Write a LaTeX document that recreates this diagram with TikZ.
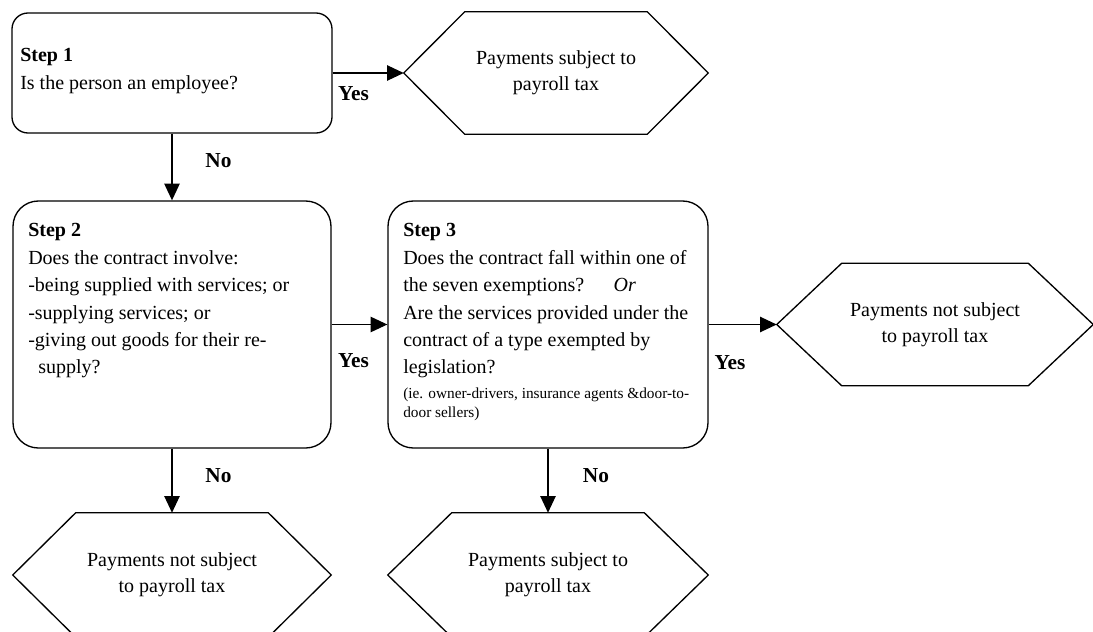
\documentclass[tikz,border=0pt]{standalone}
\usepackage{fontspec}
\setmainfont{Liberation Serif}
\usetikzlibrary{arrows.meta}
\begin{document}
\begin{tikzpicture}[x=0.75pt,y=-0.75pt,
  line/.style={draw=black, line width=1pt},
  arr/.style={line, -{Triangle[length=12.5pt,width=11.5pt]}},
  stepbox/.style={line, rounded corners=#1, inner sep=0pt},
  steptext/.style={anchor=north west, align=left, inner sep=0pt, font=\fontsize{15}{20.6}\selectfont},
  smalltext/.style={anchor=north west, align=left, inner sep=0pt, font=\fontsize{11.5}{14.3}\selectfont},
  hextext/.style={minimum width=#1, inner sep=0pt, align=center, font=\fontsize{15}{19.5}\selectfont},
  lbl/.style={font=\fontsize{16}{19}\selectfont\bfseries, inner sep=0pt}
]
\useasboundingbox (0,0) rectangle (1093,632);

% step boxes
\node[stepbox=12pt, minimum width=240pt, minimum height=90pt] (s1) at (172,73) {};
\node[stepbox=19pt, minimum width=238.5pt, minimum height=185.25pt] (s2) at (172,324.5) {};
\node[stepbox=19pt, minimum width=240pt, minimum height=185.25pt] (s3) at (548,324.5) {};

% step texts
\node[steptext] (t1) at (20,48.4) {\textbf{Step 1}\\Is the person an employee?};
\node[steptext] (t2) at (28,223.1) {\textbf{Step 2}\\Does the contract involve:\\-being supplied with services; or\\-supplying services; or\\-giving out goods for their re-\\\hspace*{7.5pt}supply?};
\node[steptext] (t3) at (403,223.1) {\textbf{Step 3}\\Does the contract fall within one of\\the seven exemptions?\hspace{22pt}\textit{Or}\\Are the services provided under the\\contract of a type exempted by\\legislation?};
\node[smalltext] (t3b) at (403,387.4) {(ie. owner-drivers, insurance agents \&door-to-\\door sellers)};

% hexagon texts (node size = hexagon size)
\node[hextext=228pt, minimum height=91.5pt] (h1) at (556,73) {Payments subject to\\payroll tax};
\node[hextext=237pt, minimum height=91.5pt] (h3) at (935,324.5) {Payments not subject\\to payroll tax};
\node[hextext=238.5pt, minimum height=93pt] (h2) at (172,575) {Payments not subject\\to payroll tax};
\node[hextext=240pt, minimum height=93pt] (h4) at (548,575) {Payments subject to\\payroll tax};

% hexagon outlines
\draw[line] (h1.west) -- ([xshift=45.75pt]h1.north west) -- ([xshift=-45.75pt]h1.north east) -- (h1.east) -- ([xshift=-45.75pt]h1.south east) -- ([xshift=45.75pt]h1.south west) -- cycle;
\draw[line] (h3.west) -- ([xshift=48.75pt]h3.north west) -- ([xshift=-48.75pt]h3.north east) -- (h3.east) -- ([xshift=-48.75pt]h3.south east) -- ([xshift=48.75pt]h3.south west) -- cycle;
\draw[line] (h2.west) -- ([xshift=47.25pt]h2.north west) -- ([xshift=-47.25pt]h2.north east) -- (h2.east) -- ([xshift=-47.25pt]h2.south east) -- ([xshift=47.25pt]h2.south west) -- cycle;
\draw[line] (h4.west) -- ([xshift=48pt]h4.north west) -- ([xshift=-48pt]h4.north east) -- (h4.east) -- ([xshift=-48pt]h4.south east) -- ([xshift=48pt]h4.south west) -- cycle;

% connectors
\draw[arr] (s1.east) -- (h1.west);
\draw[arr] (s1.south) -- (s2.north);
\draw[arr] (s2.east) -- (s3.west);
\draw[arr] (s3.east) -- (h3.west);
\draw[arr] (s2.south) -- (h2.north);
\draw[arr] (s3.south) -- (h4.north);

% labels
\node[lbl] (y1) at (353.5,93.5) {Yes};
\node[lbl] (n1) at (218.5,160.5) {No};
\node[lbl] (y2) at (353.5,360.5) {Yes};
\node[lbl] (y3) at (730,362.5) {Yes};
\node[lbl] (n2) at (218.5,475.5) {No};
\node[lbl] (n3) at (596,475.5) {No};
\end{tikzpicture}
\end{document}
